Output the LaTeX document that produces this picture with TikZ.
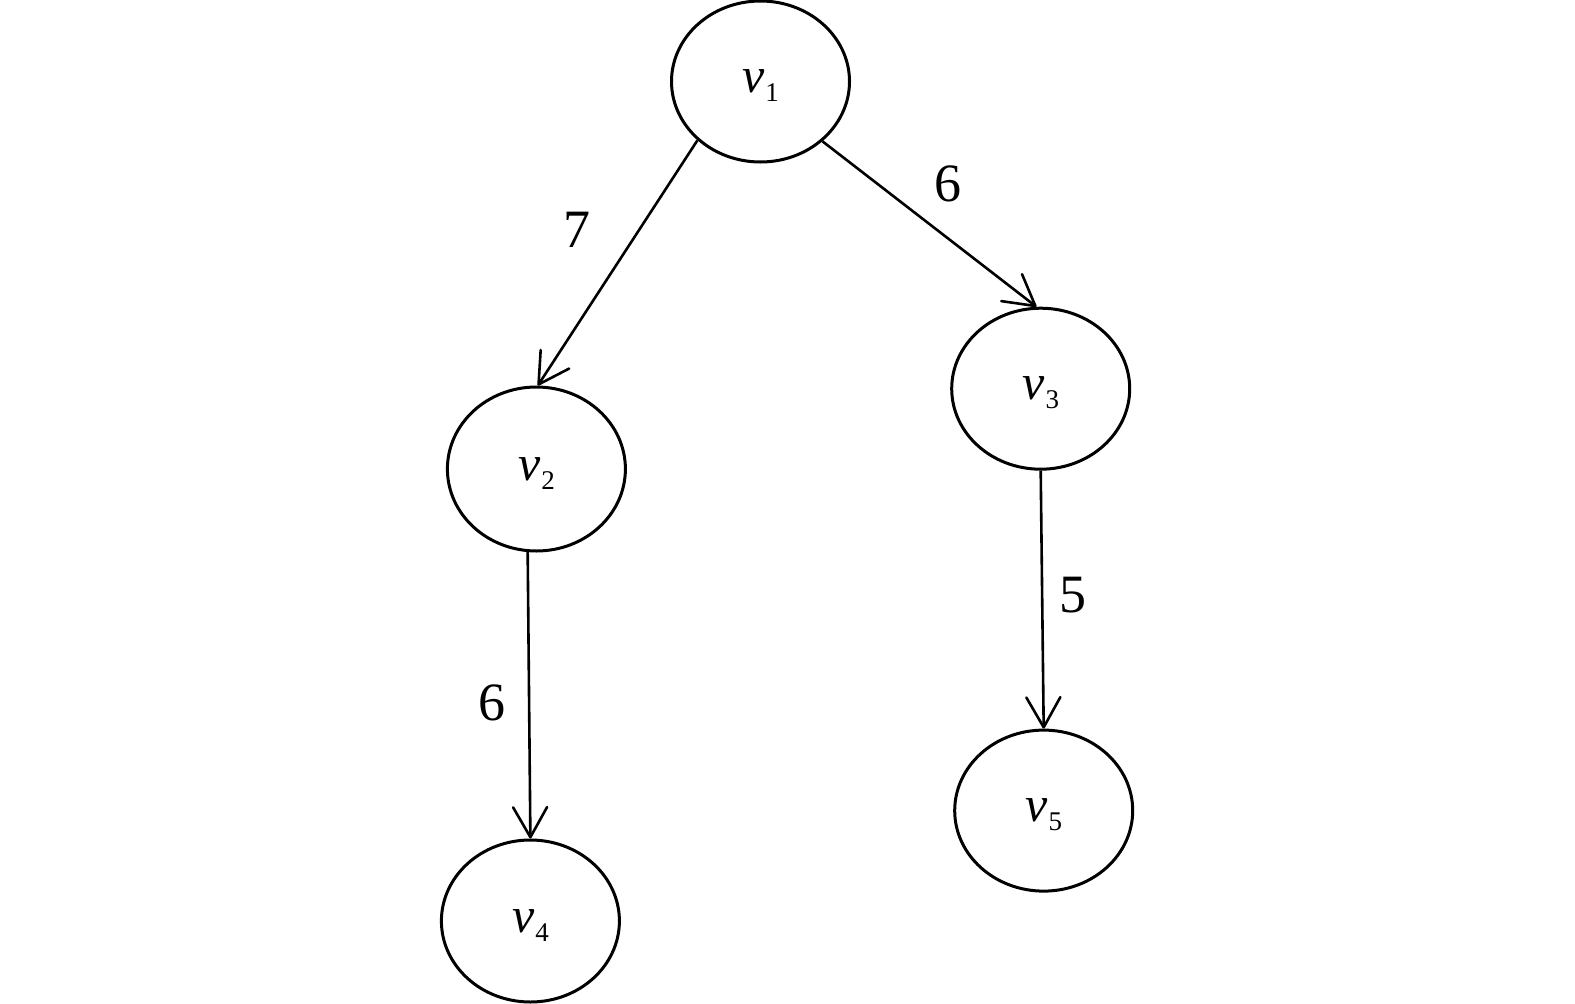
\documentclass[tikz,border=0pt]{standalone}
\usepackage{fontspec}
\setmainfont{Liberation Serif}
\usetikzlibrary{shapes.geometric,arrows.meta}
\newcommand{\vlab}[1]{{\fontsize{50}{56}\selectfont\itshape v}\kern1pt{\fontsize{27}{30}\selectfont\raisebox{-9pt}{#1}}}
\begin{document}
\begin{tikzpicture}[x=1pt,y=-1pt,
  vnode/.style={draw,line width=3pt,ellipse,minimum width=178pt,minimum height=161pt,inner sep=0pt,text height=30pt,text depth=8pt},
  edge/.style={line width=2.6pt,-{Straight Barb[length=30pt,width=34pt,line width=2.6pt,round]}},
  wlab/.style={font=\fontsize{54}{60}\selectfont}]
\useasboundingbox (0,0) rectangle (1575,1004);
\node[vnode] (v1) at (760.5,81.5) {\vlab{1}};
\node[vnode,minimum height=164pt] (v2) at (536.4,469) {\vlab{2}};
\node[vnode] (v3) at (1040.7,388.7) {\vlab{3}};
\node[vnode,minimum height=162pt] (v4) at (530.4,921) {\vlab{4}};
\node[vnode] (v5) at (1043.7,810.6) {\vlab{5}};
\draw[edge] (v1.223) -- (v2.89);
\draw[edge] (v1.316) -- (v3.93.4);
\draw[edge] (v2.264.5) -- (v4.90);
\draw[edge] (v3.270) -- (v5.90);
\node[wlab] (w12) at (576.6,230) {7};
\node[wlab] (w13) at (948.2,183.8) {6};
\node[wlab] (w24) at (492.2,703.2) {6};
\node[wlab] (w35) at (1072.8,594.7) {5};
\end{tikzpicture}
\end{document}
